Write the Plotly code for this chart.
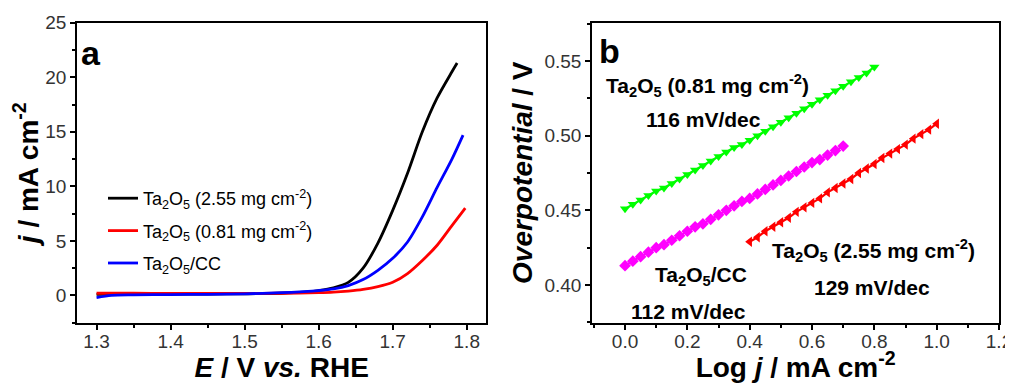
import plotly.graph_objects as go

# page body has an 8px margin: lay the figure out in reference pixels shifted by it
OFF = 8
W, H = 1013 - OFF, 383 - OFF


def xp(px):
    return (px - OFF) / W


def yp(py):
    return 1 - (py - OFF) / H


# ---------- panel a data (LSV) ----------
e_black = [1.30, 1.35, 1.40, 1.45, 1.50, 1.55, 1.58, 1.60, 1.62, 1.64, 1.66, 1.68, 1.70, 1.72, 1.74, 1.76, 1.78, 1.787]
j_black = [0.10, 0.10, 0.12, 0.13, 0.15, 0.20, 0.30, 0.45, 0.70, 1.2, 2.5, 4.8, 7.8, 11.2, 15.0, 18.1, 20.5, 21.3]

e_red = [1.30, 1.35, 1.40, 1.45, 1.50, 1.55, 1.60, 1.62, 1.64, 1.66, 1.68, 1.70, 1.72, 1.74, 1.76, 1.78, 1.798]
j_red = [0.20, 0.20, 0.18, 0.18, 0.18, 0.20, 0.25, 0.30, 0.40, 0.55, 0.80, 1.2, 2.0, 3.2, 4.6, 6.4, 8.0]

e_blue = [1.30, 1.32, 1.35, 1.40, 1.45, 1.50, 1.55, 1.58, 1.60, 1.62, 1.64, 1.66, 1.68, 1.70, 1.72, 1.74, 1.76, 1.78, 1.795]
j_blue = [-0.2, 0.0, 0.05, 0.08, 0.10, 0.15, 0.25, 0.35, 0.45, 0.6, 0.9, 1.45, 2.3, 3.4, 4.9, 7.2, 9.9, 12.5, 14.7]

legend_names = ["Ta<sub>2</sub>O<sub>5</sub> (2.55 mg cm<sup>-2</sup>)",
                "Ta<sub>2</sub>O<sub>5</sub> (0.81 mg cm<sup>-2</sup>)",
                "Ta<sub>2</sub>O<sub>5</sub>/CC"]

# ---------- panel b data (Tafel) ----------
logj_green = [0.000, 0.025, 0.050, 0.075, 0.100, 0.125, 0.150, 0.175, 0.200, 0.225, 0.250, 0.275, 0.300,
              0.325, 0.350, 0.375, 0.400, 0.425, 0.450, 0.475, 0.500, 0.525, 0.550, 0.575, 0.600, 0.625,
              0.650, 0.675, 0.700, 0.725, 0.750, 0.775, 0.800]
eta_green = [0.451, 0.454, 0.457, 0.460, 0.463, 0.465, 0.468, 0.471, 0.474, 0.477, 0.480, 0.483, 0.486,
             0.489, 0.492, 0.494, 0.497, 0.500, 0.503, 0.506, 0.509, 0.512, 0.515, 0.518, 0.521, 0.524,
             0.527, 0.530, 0.533, 0.536, 0.539, 0.542, 0.546]

logj_mag = [0.000, 0.025, 0.050, 0.075, 0.100, 0.125, 0.150, 0.175, 0.200, 0.225, 0.250, 0.275, 0.300,
            0.325, 0.350, 0.375, 0.400, 0.425, 0.450, 0.475, 0.500, 0.525, 0.550, 0.575, 0.600, 0.625,
            0.650, 0.675, 0.700]
eta_mag = [0.413, 0.416, 0.419, 0.422, 0.425, 0.427, 0.430, 0.433, 0.436, 0.439, 0.441, 0.444, 0.447,
           0.450, 0.453, 0.456, 0.458, 0.461, 0.464, 0.467, 0.470, 0.473, 0.476, 0.479, 0.482, 0.484,
           0.487, 0.490, 0.493]

logj_red = [0.400, 0.425, 0.450, 0.475, 0.500, 0.525, 0.550, 0.575, 0.600, 0.625, 0.650, 0.675, 0.700,
            0.725, 0.750, 0.775, 0.800, 0.825, 0.850, 0.875, 0.900, 0.925, 0.950, 0.975, 1.000]
eta_red = [0.429, 0.432, 0.436, 0.439, 0.442, 0.445, 0.449, 0.452, 0.455, 0.458, 0.462, 0.465, 0.468,
           0.471, 0.475, 0.478, 0.481, 0.485, 0.488, 0.491, 0.494, 0.498, 0.501, 0.504, 0.508]

FONT = "Liberation Sans, Arial, sans-serif"

fig = go.Figure()

for i, (x, y, c) in enumerate([(e_black, j_black, "black"), (e_red, j_red, "#ff0000"), (e_blue, j_blue, "#0000ff")]):
    fig.add_trace(go.Scatter(x=x, y=y, mode="lines", line=dict(color=c, width=2.8, shape="spline", smoothing=0.8),
                             name=legend_names[i], legendgroup=f"g{i}", xaxis="x", yaxis="y"))

fig.add_trace(go.Scatter(x=logj_green, y=eta_green, mode="lines+markers",
                         line=dict(color="#00ff00", width=2.2),
                         marker=dict(symbol="triangle-down", size=9, color="#00ff00"),
                         showlegend=False, xaxis="x2", yaxis="y2"))
fig.add_trace(go.Scatter(x=logj_mag, y=eta_mag, mode="lines+markers",
                         line=dict(color="#ff00ff", width=2.2),
                         marker=dict(symbol="diamond", size=9, color="#ff00ff"),
                         showlegend=False, xaxis="x2", yaxis="y2"))
fig.add_trace(go.Scatter(x=logj_red, y=eta_red, mode="lines+markers",
                         line=dict(color="#ff0000", width=2.2),
                         marker=dict(symbol="triangle-left", size=9, color="#ff0000"),
                         showlegend=False, xaxis="x2", yaxis="y2"))

tickfont = dict(family=FONT, size=19, color="#333333")
titlefont = dict(family=FONT, size=28, color="black")
common = dict(showline=True, linecolor="black", linewidth=2.2, mirror=True, ticks="outside",
              ticklen=5, tickwidth=1.8, tickcolor="black", showgrid=False, zeroline=False,
              tickfont=tickfont)

ytop = yp(22.7)
ybot = yp(322.7)

fig.update_layout(
    width=W, height=H,
    margin=dict(l=0, r=0, t=0, b=0, autoexpand=False),
    plot_bgcolor="white", paper_bgcolor="white",
    font=dict(family=FONT),
    xaxis=dict(domain=[xp(77.3), xp(486)], range=[1.274, 1.826], dtick=0.1, tick0=1.3,
               minor=dict(ticks="outside", ticklen=3, tickcolor="black", tickwidth=1.5, dtick=0.05, tick0=1.3),
               ticklabelstandoff=-5,
               title=dict(text="<b><i>E</i> / V <i>vs.</i> RHE</b>", font=titlefont, standoff=2),
               **common),
    yaxis=dict(domain=[ybot, ytop], range=[-2.5, 25], dtick=5,
               minor=dict(ticks="outside", ticklen=3, tickcolor="black", tickwidth=1.5, dtick=2.5),
               title=dict(text="<b><i>j</i> / mA cm<sup>-2</sup></b>", font=titlefont, standoff=4),
               **common),
    xaxis2=dict(domain=[xp(592.3), xp(999)], range=[-0.105, 1.2], dtick=0.2, tick0=0,
                minor=dict(ticks="outside", ticklen=3, tickcolor="black", tickwidth=1.5, dtick=0.1, tick0=0),
                tickformat=".1f", ticklabelstandoff=-5,
                title=dict(text="<b>Log <i>j</i> / mA cm<sup>-2</sup></b>", font=titlefont, standoff=2),
                anchor="y2", **common),
    yaxis2=dict(domain=[ybot, ytop], range=[0.3748, 0.5756], dtick=0.05, tick0=0.4,
                minor=dict(ticks="outside", ticklen=3, tickcolor="black", tickwidth=1.5, dtick=0.025, tick0=0.4),
                tickformat=".2f",
                title=dict(text="<b><i>Overpotential</i> / V</b>", font=titlefont, standoff=4),
                anchor="x2", **common),
    legend=dict(x=xp(103), y=yp(180), xanchor="left", yanchor="top",
                bgcolor="rgba(0,0,0,0)", font=dict(family=FONT, size=18, color="black"),
                tracegroupgap=6),
)

ann_font = dict(family=FONT, size=21, color="black")
anns = [
    dict(text="<b>a</b>", x=xp(91), y=yp(53), font=dict(family=FONT, size=34, color="black")),
    dict(text="<b>b</b>", x=xp(609), y=yp(51), font=dict(family=FONT, size=34, color="black")),
    dict(text="<b>Ta<sub>2</sub>O<sub>5</sub> (0.81 mg cm<sup>-2</sup>)</b>", x=xp(707), y=yp(85), font=ann_font),
    dict(text="<b>116 mV/dec</b>", x=xp(703), y=yp(120), font=ann_font),
    dict(text="<b>Ta<sub>2</sub>O<sub>5</sub>/CC</b>", x=xp(701), y=yp(276), font=ann_font),
    dict(text="<b>112 mV/dec</b>", x=xp(688), y=yp(311), font=ann_font),
    dict(text="<b>Ta<sub>2</sub>O<sub>5</sub> (2.55 mg cm<sup>-2</sup>)</b>", x=xp(873), y=yp(250), font=ann_font),
    dict(text="<b>129 mV/dec</b>", x=xp(872), y=yp(287), font=ann_font),
]
for a in anns:
    fig.add_annotation(xref="paper", yref="paper", showarrow=False, xanchor="center", yanchor="middle", **a)

fig.write_html("out.html")
